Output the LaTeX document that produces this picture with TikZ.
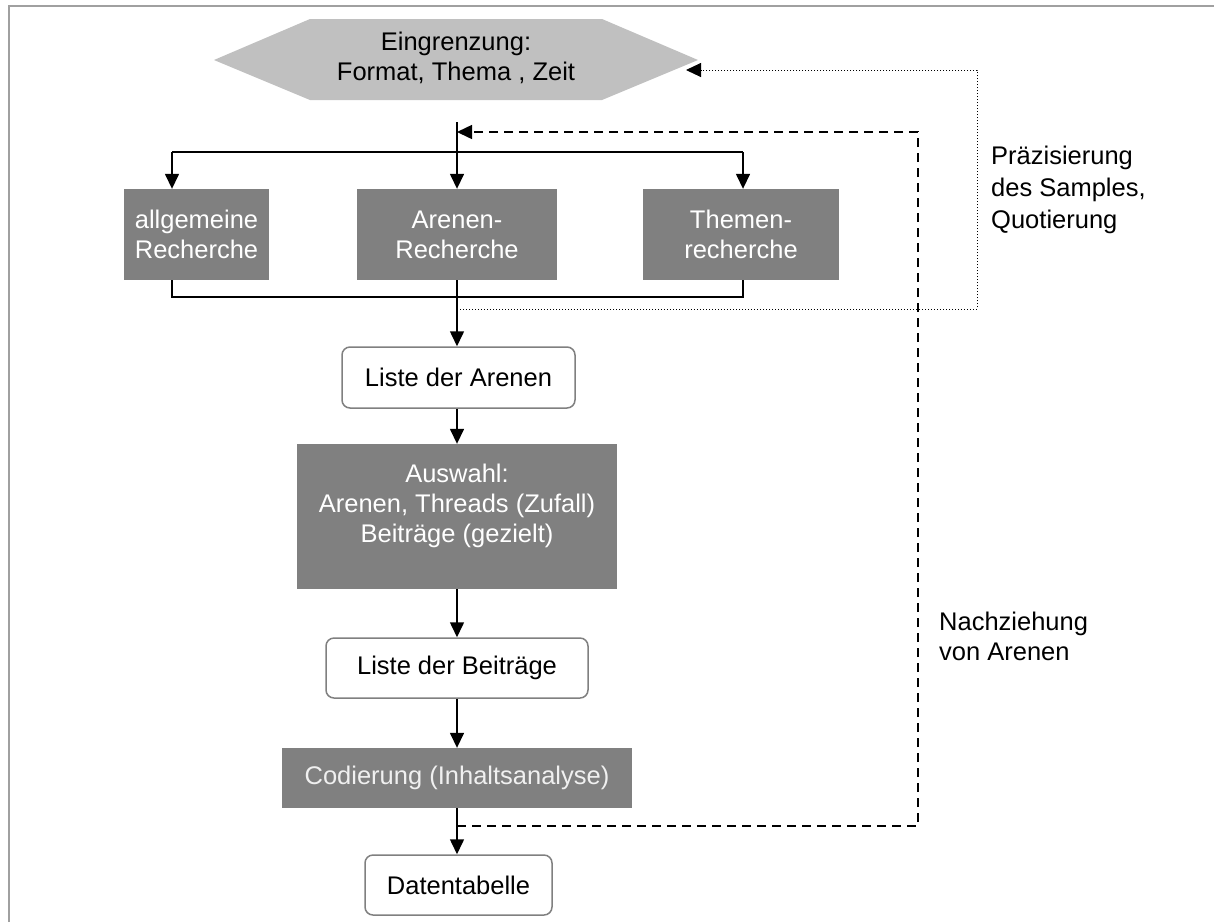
\documentclass[tikz,border=0pt]{standalone}
\usepackage{fontspec}
\setmainfont{Liberation Sans}
\usetikzlibrary{arrows.meta}
\definecolor{boxgray}{HTML}{808080}
\definecolor{hexgray}{HTML}{C0C0C0}
\definecolor{framegray}{HTML}{A0A0A0}
\definecolor{codtext}{HTML}{F0F0F0}
\begin{document}
\begin{tikzpicture}[x=1pt,y=-1pt,
  every node/.style={font=\fontsize{25.5}{30}\selectfont, inner sep=0pt, align=center},
  darkbox/.style={fill=boxgray, text=white},
  roundbox/.style={draw=boxgray, line width=1.5pt, rounded corners=8pt, fill=white},
  conn/.style={line width=1.5pt, black},
  arr/.style={conn, -{Triangle[length=15pt,width=14pt]}},
  dotarr/.style={line width=1pt, dotted, -{Triangle[length=15pt,width=14pt]}},
  dasharr/.style={line width=1.5pt, dash pattern=on 9pt off 6pt, -{Triangle[length=15pt,width=14pt]}},
  lbl/.style={anchor=west, align=left}
]
\useasboundingbox (0,0) rectangle (1214,922);
\fill[white] (0,0) rectangle (1214,922);
\draw[framegray, line width=2pt] (9,922) -- (9,6) -- (1214,6);

% hexagon
\fill[hexgray] (214,60) -- (310,19) -- (602,19) -- (698,60) -- (602,100) -- (310,100) -- cycle;
\node (eing) at (456,58) {Eingrenzung:\\Format, Thema , Zeit};

% three research boxes
\node[darkbox, minimum width=145pt, minimum height=91pt] (allg) at (196.5,234.5) {allgemeine\\Recherche};
\node[darkbox, minimum width=200pt, minimum height=91pt] (aren) at (457,234.5) {Arenen-\\Recherche};
\node[darkbox, minimum width=196pt, minimum height=91pt] (them) at (741,234.5) {Themen-\\recherche};

\node[roundbox, minimum width=233pt, minimum height=61pt] (lista) at (458.5,377.5) {Liste der Arenen};
\node[darkbox, minimum width=320pt, minimum height=145pt] (ausw) at (457,516.5) {};
\node[text=white] (auswtxt) at (457,506) {Auswahl:\\Arenen, Threads (Zufall)\\Beiträge (gezielt)};
\node[roundbox, minimum width=262pt, minimum height=60pt] (listb) at (457,668) {Liste der Beiträge};
\node[fill=boxgray, text=codtext, minimum width=350pt, minimum height=60pt] (cod) at (457,778) {Codierung (Inhaltsanalyse)};
\node[roundbox, minimum width=187pt, minimum height=60pt] (daten) at (458.5,885) {Datentabelle};

% labels
\node[lbl, font=\fontsize{25.5}{32}\selectfont] (praez) at (991,190) {Präzisierung\\des Samples,\\Quotierung};
\node[lbl] (nach) at (939,636) {Nachziehung\\von Arenen};

% coordinates
\coordinate (ctop) at (457,122);
\coordinate (sl) at (172,152);
\coordinate (sr) at (743,152);
\coordinate (bl) at (172,297);
\coordinate (br) at (743,297);

% distribution
\draw[arr] (ctop) -- (aren.north);
\draw[conn] (sl) -- (sr);
\draw[arr] (sl) -- (sl |- allg.north);
\draw[arr] (sr) -- (sr |- them.north);
% collection
\draw[conn] (bl |- allg.south) -- (bl) -- (br) -- (br |- them.south);
\draw[arr] (aren.south) -- (lista.north -| aren.south);
\draw[arr] (lista.south -| aren.south) -- (ausw.north);
\draw[arr] (ausw.south) -- (listb.north);
\draw[arr] (listb.south) -- (cod.north);
\draw[arr] (cod.south) -- (daten.north -| cod.south);

% dotted feedback
\coordinate (dA) at (457,309);
\coordinate (dB) at (977,309);
\coordinate (dC) at (977,70);
\coordinate (dD) at (686,70);
\draw[dotarr] (dA) -- (dB) -- (dC) -- (dD);

% dashed feedback
\coordinate (nA) at (457,826);
\coordinate (nB) at (918,826);
\coordinate (nC) at (918,132);
\coordinate (nD) at (457,132);
\draw[dasharr] (nA) -- (nB) -- (nC) -- (nD);
\end{tikzpicture}
\end{document}
